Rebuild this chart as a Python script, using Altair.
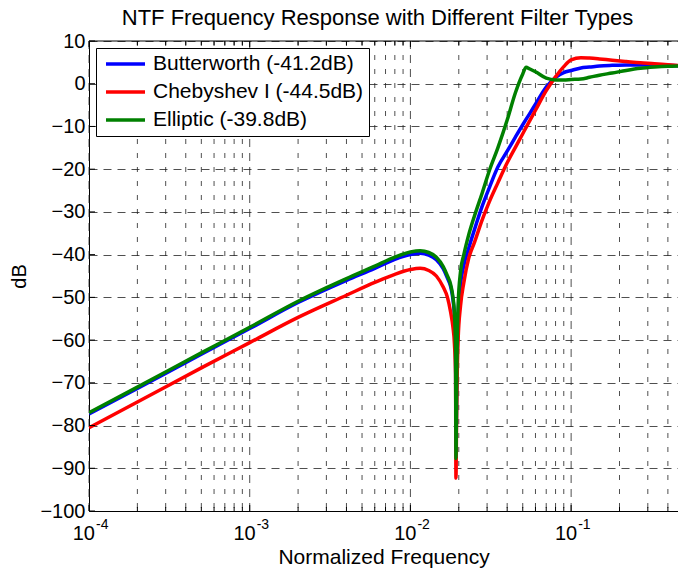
import altair as alt
import pandas as pd

FONT = "Liberation Sans"

# ---- data ----
freq = [1e-4, 2e-4, 5e-4, 1e-3, 2e-3, 4e-3, 6e-3, 8e-3,
        0.0100, 0.0115, 0.0130, 0.0145, 0.0160, 0.0170, 0.0178, 0.0184,
        0.0188, 0.0191, 0.0192, 0.0194, 0.0198, 0.0205, 0.0215,
        0.023, 0.025, 0.028, 0.031, 0.035, 0.040, 0.045, 0.050, 0.0525,
        0.055, 0.060, 0.070, 0.080, 0.090, 0.10,
        0.115, 0.13, 0.15, 0.18, 0.22, 0.27, 0.33, 0.40, 0.50]

butter_db = [-77.3, -71.3, -63.3, -57.3, -51.2, -46.0, -43.2, -41.1,
             -40.0, -39.7, -40.1, -41.2, -43.3, -45.5, -47.5, -50.5,
             -54.5, -62.5, -86.0, -71.0, -55.0, -47.0, -42.5,
             -38.6, -34.2, -28.6, -24.3, -19.5, -15.8, -12.5, -9.6, -8.3,
             -7.1, -4.8, -0.8, 1.5, 2.6, 3.1,
             3.7, 3.9, 4.15, 4.3, 4.4, 4.4, 4.4, 4.3, 4.2]

cheby_db = [-80.5, -74.5, -66.5, -60.6, -54.7, -49.5, -46.5, -44.6,
            -43.5, -43.2, -43.7, -45.0, -47.6, -50.0, -53.5, -57.0,
            -61.0, -68.0, -92.3, -76.0, -60.0, -52.0, -46.5,
            -41.0, -37.2, -31.8, -27.6, -23.2, -18.5, -14.9, -11.7, -10.2,
            -8.8, -6.2, -1.6, 1.6, 4.0, 5.6,
            6.1, 6.0, 5.8, 5.5, 5.2, 4.9, 4.7, 4.45, 4.2]

ellip_db = [-77.0, -71.0, -63.0, -57.0, -50.9, -45.6, -42.7, -40.6,
            -39.4, -39.1, -39.5, -40.6, -42.8, -45.0, -47.0, -50.0,
            -54.0, -62.0, -87.7, -70.0, -52.0, -44.0, -40.0,
            -35.5, -31.0, -25.5, -20.3, -15.0, -8.5, -2.1, 2.3, 3.85,
            3.5, 2.8, 1.3, 0.9, 0.9, 1.0,
            1.1, 1.5, 2.0, 2.5, 3.1, 3.6, 3.9, 4.1, 4.2]

series_names = ["Butterworth (-41.2dB)", "Chebyshev I (-44.5dB)", "Elliptic (-39.8dB)"]
series_colors = ["#0000ff", "#ff0000", "#008000"]

decade_ticks = [1e-4, 1e-3, 1e-2, 1e-1]
decade_exps = ["-4", "-3", "-2", "-1"]
minor_mult = [2, 3, 4, 5, 6, 7, 8, 9]
y_ticks = [-100, -90, -80, -70, -60, -50, -40, -30, -20, -10, 0, 10]

X_MAX = 0.4624  # right edge of the visible plot (cropped at 0.5 in the original)

# ---- tables ----
rows = []
for name, vals in zip(series_names, [butter_db, cheby_db, ellip_db]):
    for f, v in zip(freq, vals):
        rows.append({"f": f, "dB": v, "filter": name})
df = pd.DataFrame(rows)

minor_vals = [m * d for d in decade_ticks for m in minor_mult if m * d <= X_MAX]
df_major = pd.DataFrame({"f": decade_ticks, "base": ["10"] * 4, "exp": decade_exps})
df_minor = pd.DataFrame({"f": minor_vals})
df_yt = pd.DataFrame({"dB": y_ticks})

W, H = 589, 470

xscale = alt.Scale(type="log", domain=[1e-4, X_MAX], nice=False)
yscale = alt.Scale(domain=[-100, 10], nice=False, zero=False)

x_axis = alt.Axis(title="Normalized Frequency", labels=False, ticks=False, tickSize=0,
                  grid=False, domain=True, domainColor="black", domainWidth=1,
                  titleFont=FONT, titleFontSize=21, titleFontWeight="normal",
                  titleColor="black", titlePadding=35)
y_axis = alt.Axis(title="dB", values=y_ticks, labelFont=FONT, labelFontSize=20,
                  labelColor="black", labelPadding=4, labelFlush=False, labelOverlap=False,
                  ticks=False, tickSize=0, grid=True, gridColor="#222", gridDash=[8, 6],
                  gridWidth=0.8, domain=True, domainColor="black", domainWidth=1,
                  titleFont=FONT, titleFontSize=20, titleFontWeight="normal",
                  titleColor="black", titlePadding=10)

X = alt.X("f:Q", scale=xscale, axis=x_axis)
Y = alt.Y("dB:Q", scale=yscale, axis=y_axis)

NBSP3 = "\u00a0\u00a0\u00a0"
legend = alt.Legend(title=None, orient="none", legendX=7, legendY=7, direction="vertical",
                    symbolType="stroke", symbolSize=1521, symbolStrokeWidth=3.5,
                    clipHeight=22, rowPadding=6, padding=5, symbolOffset=3, labelOffset=6,
                    labelFont=FONT, labelFontSize=21, labelColor="black", labelLimit=500,
                    strokeColor="black", fillColor="white",
                    labelExpr="datum.label + '" + NBSP3 + "'")

grid_major = alt.Chart(df_major).mark_rule(color="#222", strokeWidth=0.8,
                                           strokeDash=[8, 6]).encode(x=X)
grid_minor = alt.Chart(df_minor).mark_rule(color="#222", strokeWidth=0.8,
                                           strokeDash=[5, 9]).encode(x=X)

lines = alt.Chart(df).mark_line(strokeWidth=3.5, clip=True, interpolate="monotone").encode(
    x=X, y=Y,
    color=alt.Color("filter:N", scale=alt.Scale(domain=series_names, range=series_colors),
                    legend=legend, sort=series_names),
)

top_line = alt.Chart(df_yt).transform_filter("datum.dB == 10").mark_rule(
    color="black", strokeWidth=1).encode(y=Y, x=alt.value(0), x2=alt.value(W))

tick_bot_major = alt.Chart(df_major).mark_rule(color="black", strokeWidth=1).encode(
    x=X, y=alt.value(H), y2=alt.value(H - 6))
tick_bot_minor = alt.Chart(df_minor).mark_rule(color="black", strokeWidth=1).encode(
    x=X, y=alt.value(H), y2=alt.value(H - 4))
tick_top_major = alt.Chart(df_major).mark_rule(color="black", strokeWidth=1).encode(
    x=X, y=alt.value(0), y2=alt.value(6))
tick_top_minor = alt.Chart(df_minor).mark_rule(color="black", strokeWidth=1).encode(
    x=X, y=alt.value(0), y2=alt.value(4))
tick_left = alt.Chart(df_yt).mark_rule(color="black", strokeWidth=1).encode(
    y=Y, x=alt.value(0), x2=alt.value(6))

lab_base = alt.Chart(df_major).mark_text(font=FONT, fontSize=20, color="black",
                                         align="right", baseline="alphabetic",
                                         dx=6, dy=29).encode(
    x=X, y=alt.datum(-100), text="base:N")
lab_exp = alt.Chart(df_major).mark_text(font=FONT, fontSize=14, color="black",
                                        align="left", baseline="alphabetic",
                                        dx=7, dy=18).encode(
    x=X, y=alt.datum(-100), text="exp:N")

chart = alt.layer(
    grid_minor, grid_major, lines, top_line,
    tick_bot_major, tick_bot_minor, tick_top_major, tick_top_minor, tick_left,
    lab_base, lab_exp,
).properties(
    width=W, height=H,
    title=alt.TitleParams("NTF Frequency Response with Different Filter Types",
                          font=FONT, fontSize=22, fontWeight="normal", color="black",
                          anchor="middle", frame="group", offset=1, dx=-6),
    autosize=alt.AutoSizeParams(type="none"),
    padding={"left": 89, "top": 41, "right": 0, "bottom": 62},
    background="white",
).configure_view(stroke=None)

chart.save("out.html", embed_options={"renderer": "svg", "actions": False})
